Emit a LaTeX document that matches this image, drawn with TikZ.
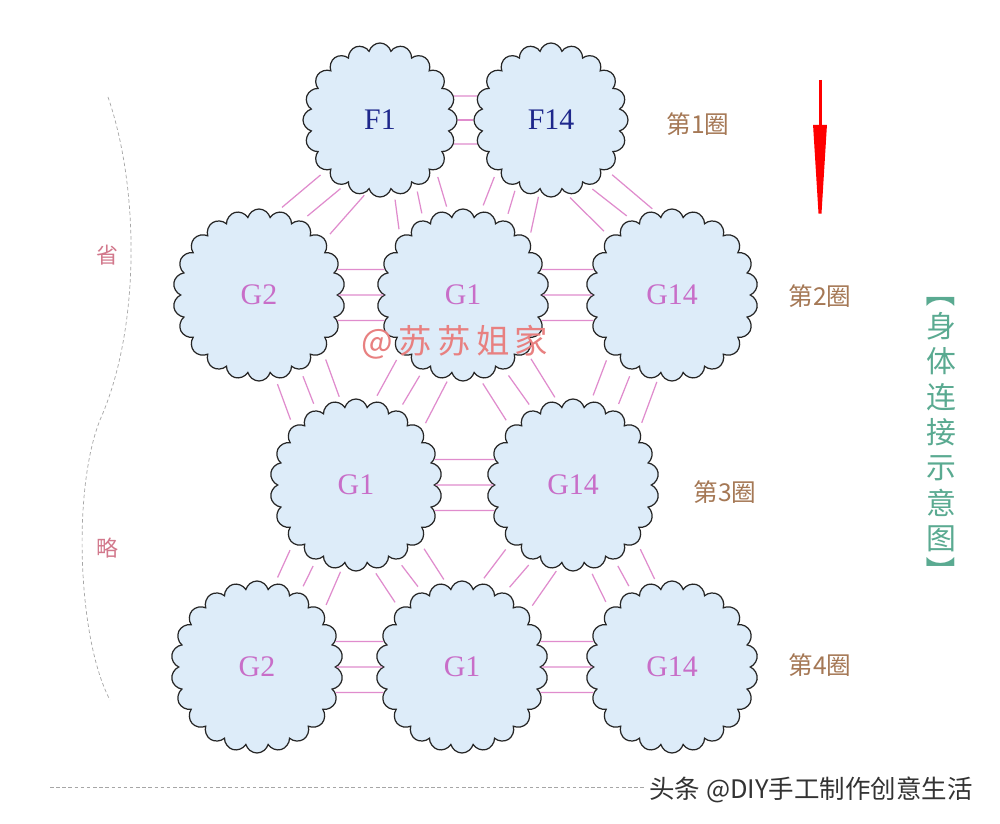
\documentclass[tikz,border=0pt]{standalone}
\usepackage{fontspec}
\setmainfont{Liberation Serif}
\newfontfamily\cjk{Noto Sans CJK SC}
\usetikzlibrary{shapes.symbols,arrows.meta}
\definecolor{puffblue}{RGB}{221,236,249}
\definecolor{linkpink}{RGB}{224,140,205}
\definecolor{fnavy}{RGB}{30,40,140}
\definecolor{gpink}{RGB}{200,110,200}
\definecolor{ringbrown}{RGB}{165,120,85}
\definecolor{titlegreen}{RGB}{90,170,145}
\definecolor{markred}{RGB}{232,128,128}
\definecolor{sidepink}{RGB}{210,120,140}
\tikzset{
    puff/.style = {cloud, cloud puffs=22, cloud puff arc=150, aspect=1, draw=black!85, fill=puffblue, line width=0.7pt, minimum size=34.4mm, inner sep=0pt, font=\fontsize{17}{17}\selectfont, text=gpink},
    fpuff/.style = {puff, cloud puffs=20, minimum size=30.8mm, text=fnavy},
    link/.style = {draw=linkpink, line width=0.7pt},
    ring/.style = {text=ringbrown, font=\cjk\fontsize{14}{14}\selectfont},
    guide/.style = {draw=black!35, dashed, dash pattern=on 2pt off 1.5pt, line width=0.4pt},
    titletext/.style = {text=titlegreen, font=\cjk\fontsize{17}{20.1}\selectfont, inner sep=0pt},
}

\begin{document}
\begin{tikzpicture}[x=0.2mm,y=-0.2mm]
\fill[white] (0,0) rectangle (1000,824);
\useasboundingbox (0,0) rectangle (1000,824);
% ring 1
\node[fpuff] (F1) at (380,120) {F1};
\node[fpuff] (F14) at (551,120) {F14};
% ring 2
\node[puff] (G2a) at (259,295) {G2};
\node[puff] (G1a) at (463,295) {G1};
\node[puff] (G14a) at (672,295) {G14};
% ring 3
\node[puff] (G1b) at (356,485) {G1};
\node[puff] (G14b) at (573,485) {G14};
% ring 4
\node[puff] (G2c) at (257,667) {G2};
\node[puff] (G1c) at (462,667) {G1};
\node[puff] (G14c) at (672,667) {G14};

% side by side
\foreach \a/\b in {F1/F14, G2a/G1a, G1a/G14a, G1b/G14b, G2c/G1c, G1c/G14c}
    \foreach \s/\t in {18/162, 0/180, -18/-162}
        \draw[link] (\a.\s) -- (\b.\t);
% down to the left
\foreach \a/\b in {F1/G2a, F14/G1a, G1a/G1b, G14a/G14b, G1b/G2c, G14b/G1c}
    \foreach \s/\t in {-137/78, -118/60, -99/40}
        \draw[link, shorten <=1.4mm, shorten >=1.4mm] (\a.\s) -- (\b.\t);
% down to the right
\foreach \a/\b in {F1/G1a, F14/G14a, G2a/G1b, G1a/G14b, G1b/G1c, G14b/G14c}
    \foreach \s/\t in {-79/137, -61/118, -42/100}
        \draw[link, shorten <=1.4mm, shorten >=1.4mm] (\a.\s) -- (\b.\t);

\node[text=markred, font=\cjk\fontsize{19}{19}\selectfont] (mark) at (455,342) {@\hspace{3pt}苏\hspace{3pt}苏\hspace{3pt}姐\hspace{3pt}家};

% ring labels
\node[ring] (ring1) at (698,124) {第1圈};
\node[ring] (ring2) at (820,296) {第2圈};
\node[ring] (ring3) at (725,492) {第3圈};
\node[ring] (ring4) at (820,665) {第4圈};

% direction
\coordinate (arrtop) at (820,80);
\coordinate (arrtip) at (820,240);
\draw[red, line width=0.6mm, -{Triangle[length=23mm,width=2.6mm]}] (arrtop) -- (arrtip);

% title, read downwards
\node[titletext] (titletop) at (941,292) {\rotatebox{-90}{【}};
\node[titletext, align=center] (title) at (941,432) {身\\体\\连\\接\\示\\意\\图};
\node[titletext] (titlebot) at (941,571) {\rotatebox{-90}{】}};

% left side
\draw[guide] (108,97) .. controls (140,190) and (140,330) .. (100,420) .. controls (72,490) and (78,640) .. (110,700);
\node[text=sidepink, font=\cjk\fontsize{12.5}{12.5}\selectfont] (side1) at (107,255) {省};
\node[text=sidepink, font=\cjk\fontsize{12.5}{12.5}\selectfont] (side2) at (107,548) {略};

% bottom
\draw[guide] (50,787) -- (645,787);
\node[font=\cjk\fontsize{14.5}{14.5}\selectfont, text=black!80] (credit) at (811,790) {头条 @DIY手工制作创意生活};
\end{tikzpicture}
\end{document}
